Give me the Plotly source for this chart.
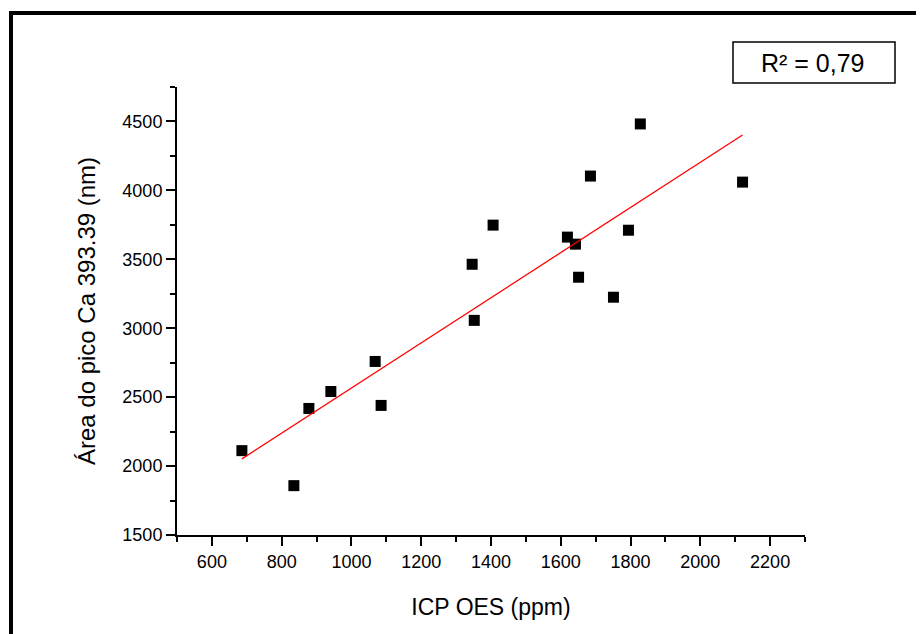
import plotly.graph_objects as go

# Data
icp_oes_ppm = [686, 835, 878, 941, 1068, 1085, 1346, 1352, 1406, 1619, 1642, 1651, 1685, 1751, 1794, 1828, 2121]
area_ca = [2112, 1858, 2418, 2541, 2759, 2440, 3464, 3057, 3748, 3661, 3610, 3370, 4104, 3225, 3711, 4482, 4060]

# Linear fit line endpoints
fit_x = [686, 2121]
fit_y = [2052, 4402]

x_tickvals = [600, 800, 1000, 1200, 1400, 1600, 1800, 2000, 2200]
y_tickvals = [1500, 2000, 2500, 3000, 3500, 4000, 4500]
r2_label = "R² = 0,79"
x_title = "ICP OES (ppm)"
y_title = "Área do pico Ca 393.39 (nm)"

FONT = "Liberation Sans, Arial, sans-serif"

fig = go.Figure()
fig.add_trace(go.Scatter(
    x=icp_oes_ppm, y=area_ca, mode="markers",
    marker=dict(symbol="square", size=11, color="black", line=dict(width=0)),
    showlegend=False, hoverinfo="x+y"))
fig.add_trace(go.Scatter(
    x=fit_x, y=fit_y, mode="lines",
    line=dict(color="#ff0000", width=1.3),
    showlegend=False))

OFF = 8  # page body margin offset
W, H = 924, 634
L, T = 177 - OFF, 87 - OFF
pw, ph = 628, 448
R = W - L - pw
B = H - T - ph

def px(xw):
    return (xw - OFF - L) / pw

def py(yw):
    return (T + ph - (yw - OFF)) / ph

axis_common = dict(
    showline=True, linecolor="black", linewidth=2,
    ticks="outside", ticklen=9, tickwidth=2, tickcolor="black",
    showgrid=False, zeroline=False, mirror=False,
    tickfont=dict(family=FONT, size=18, color="black"),
)

fig.update_xaxes(
    range=[500, 2300], tickmode="array", tickvals=x_tickvals,
    minor=dict(ticks="outside", ticklen=5, tickwidth=2, tickcolor="black", dtick=100, tick0=500, showgrid=False),
    title=dict(text=x_title, font=dict(family=FONT, size=23, color="black"), standoff=28),
    **axis_common)
fig.update_yaxes(
    range=[1500, 4750], tickmode="array", tickvals=y_tickvals,
    minor=dict(ticks="outside", ticklen=5, tickwidth=2, tickcolor="black", dtick=250, tick0=1500, showgrid=False),
    title=dict(text=y_title, font=dict(family=FONT, size=24, color="black"), standoff=20),
    **axis_common)

shapes = [
    # outer frame: top and left thick lines
    dict(type="line", xref="paper", yref="paper", x0=px(9), x1=px(940), y0=py(13), y1=py(13),
         line=dict(color="black", width=4)),
    dict(type="line", xref="paper", yref="paper", x0=px(11), x1=px(11), y0=py(11), y1=py(650),
         line=dict(color="black", width=4)),
    # R² box
    dict(type="rect", xref="paper", yref="paper", x0=px(733), x1=px(895), y0=py(83), y1=py(42),
         line=dict(color="black", width=1.5), fillcolor="white"),
]

fig.update_layout(
    width=W, height=H,
    margin=dict(l=L, r=R, t=T, b=B, pad=0),
    paper_bgcolor="white", plot_bgcolor="white",
    shapes=shapes,
    annotations=[dict(
        text=r2_label, xref="paper", yref="paper", x=px(813), y=py(62.5),
        xanchor="center", yanchor="middle", showarrow=False,
        font=dict(family=FONT, size=25, color="black"))],
)

fig.write_html("out.html")
